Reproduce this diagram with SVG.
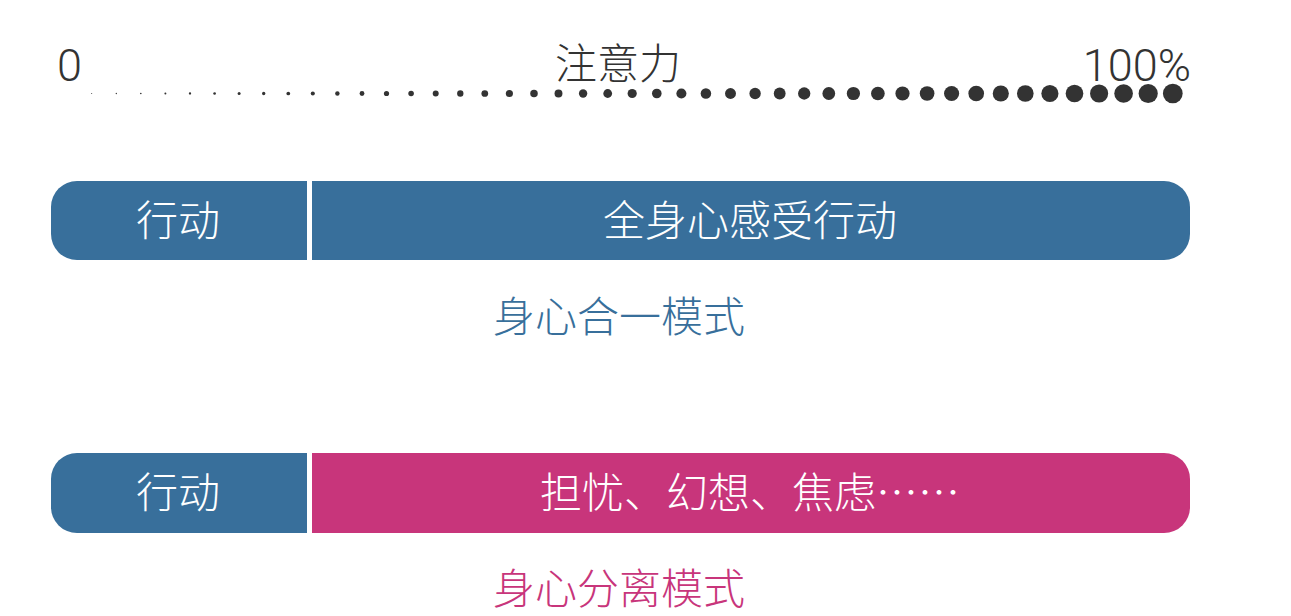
<svg xmlns="http://www.w3.org/2000/svg" width="1291" height="616" viewBox="0 0 1291 616">
<style>
.num{font-family:Roboto,"Liberation Sans",sans-serif;font-weight:300;font-size:45px;fill:#333;}
.cjk{font-family:"Noto Sans CJK SC",sans-serif;font-weight:300;font-size:42px;}
.w{fill:#fff;text-anchor:middle;}
.blue{fill:#386f9b;}
.pink{fill:#c8357b;}
.dot{fill:#333;}
</style>
<rect width="1291" height="616" fill="#fff"/>
<g id="scale">
<text class="num" x="57" y="81">0</text>
<text class="cjk" x="618" y="79" text-anchor="middle" fill="#333">注意力</text>
<text class="num" x="1191" y="81" text-anchor="end">100%</text>
<g id="dots" class="dot">
<circle cx="91.7" cy="93.5" r="0.5"/>
<circle cx="116.3" cy="93.5" r="0.66"/>
<circle cx="140.8" cy="93.5" r="0.82"/>
<circle cx="165.4" cy="93.5" r="0.99"/>
<circle cx="190.0" cy="93.5" r="1.16"/>
<circle cx="214.6" cy="93.5" r="1.33"/>
<circle cx="239.1" cy="93.5" r="1.50"/>
<circle cx="263.7" cy="93.5" r="1.68"/>
<circle cx="288.3" cy="93.5" r="1.86"/>
<circle cx="312.8" cy="93.5" r="2.04"/>
<circle cx="337.4" cy="93.5" r="2.22"/>
<circle cx="362.0" cy="93.5" r="2.41"/>
<circle cx="386.5" cy="93.5" r="2.59"/>
<circle cx="411.1" cy="93.5" r="2.78"/>
<circle cx="435.7" cy="93.5" r="2.98"/>
<circle cx="460.3" cy="93.5" r="3.17"/>
<circle cx="484.8" cy="93.5" r="3.37"/>
<circle cx="509.4" cy="93.5" r="3.57"/>
<circle cx="534.0" cy="93.5" r="3.77"/>
<circle cx="558.5" cy="93.5" r="3.97"/>
<circle cx="583.1" cy="93.5" r="4.18"/>
<circle cx="607.7" cy="93.5" r="4.39"/>
<circle cx="632.2" cy="93.5" r="4.60"/>
<circle cx="656.8" cy="93.5" r="4.81"/>
<circle cx="681.4" cy="93.5" r="5.03"/>
<circle cx="705.9" cy="93.5" r="5.25"/>
<circle cx="730.5" cy="93.5" r="5.47"/>
<circle cx="755.1" cy="93.5" r="5.69"/>
<circle cx="779.7" cy="93.5" r="5.92"/>
<circle cx="804.2" cy="93.5" r="6.15"/>
<circle cx="828.8" cy="93.5" r="6.38"/>
<circle cx="853.4" cy="93.5" r="6.61"/>
<circle cx="877.9" cy="93.5" r="6.85"/>
<circle cx="902.5" cy="93.5" r="7.09"/>
<circle cx="927.1" cy="93.5" r="7.33"/>
<circle cx="951.6" cy="93.5" r="7.57"/>
<circle cx="976.2" cy="93.5" r="7.82"/>
<circle cx="1000.8" cy="93.5" r="8.06"/>
<circle cx="1025.3" cy="93.5" r="8.31"/>
<circle cx="1049.9" cy="93.5" r="8.57"/>
<circle cx="1074.5" cy="93.5" r="8.82"/>
<circle cx="1099.1" cy="93.5" r="9.08"/>
<circle cx="1123.6" cy="93.5" r="9.34"/>
<circle cx="1148.2" cy="93.5" r="9.60"/>
<circle cx="1172.8" cy="93.5" r="9.87"/>
</g>
</g>
<g id="bar1">
<path class="blue" d="M307,181 H77 A26,26 0 0 0 51,207 V234 A26,26 0 0 0 77,260 H307 Z"/>
<path class="blue" d="M312,181 H1164 A26,26 0 0 1 1190,207 V234 A26,26 0 0 1 1164,260 H312 Z"/>
<text class="cjk w" x="178" y="236">行动</text>
<text class="cjk w" x="750" y="236">全身心感受行动</text>
</g>
<g id="label1">
<text class="cjk blue" x="619" y="332" text-anchor="middle">身心合一模式</text>
</g>
<g id="bar2">
<path class="blue" d="M307,453 H77 A26,26 0 0 0 51,479 V507 A26,26 0 0 0 77,533 H307 Z"/>
<path class="pink" d="M312,453 H1164 A26,26 0 0 1 1190,479 V507 A26,26 0 0 1 1164,533 H312 Z"/>
<text class="cjk w" x="178" y="508">行动</text>
<text class="cjk w" x="750" y="508">担忧、幻想、焦虑……</text>
</g>
<g id="label2">
<text class="cjk pink" x="619" y="604" text-anchor="middle">身心分离模式</text>
</g>
</svg>
